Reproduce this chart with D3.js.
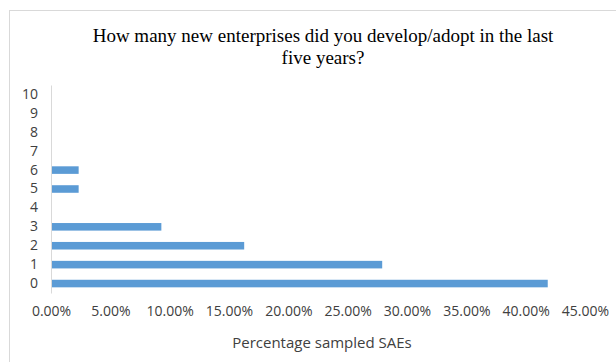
<!DOCTYPE html>
<meta charset="utf-8">
<style>
body { margin: 0; background: #fff; }
.tick text { font: 14px "Open Sans", sans-serif; fill: #404040; }
.title { font: 19px "Liberation Serif", serif; fill: #000; }
.xlabel { font: 15px "Open Sans", sans-serif; fill: #404040; }
</style>
<svg width="616" height="362"></svg>
<script src="https://d3js.org/d3.v7.min.js"></script>
<script>

// number of new enterprises developed/adopted
var categories = ["0", "1", "2", "3", "4", "5", "6", "7", "8", "9", "10"];
// percentage of sampled SAEs (out of 43)
var values = [41.86, 27.91, 16.28, 9.30, 0, 2.33, 2.33, 0, 0, 0, 0];
var xTicks = [0, 5, 10, 15, 20, 25, 30, 35, 40, 45];

var svg = d3.select("svg");

// chart border (runs off the right and bottom of the picture)
svg.append("rect")
    .attr("x", 9.5).attr("y", 10.5)
    .attr("width", 640).attr("height", 380)
    .attr("fill", "none")
    .attr("stroke", "#d9d9d9");

var margin = {left: 51, right: 31, top: 85, bottom: 69},
    width = 616 - margin.left - margin.right,
    height = 362 - margin.top - margin.bottom;

var g = svg.append("g").attr("transform", "translate(" + margin.left + "," + margin.top + ")");

var x = d3.scaleLinear().domain([0, 45]).range([0, width]);
var y = d3.scaleBand().domain(categories.slice().reverse()).range([0, height]).paddingInner(0.6).paddingOuter(0.3);

var data = categories.map(function(c, i) { return {cat: c, v: values[i]}; });

g.selectAll("rect.bar")
  .data(data.filter(function(d) { return d.v > 0; }))
  .enter().append("rect")
    .attr("class", "bar")
    .attr("x", 0)
    .attr("y", function(d) { return y(d.cat); })
    .attr("width", function(d) { return x(d.v); })
    .attr("height", y.bandwidth())
    .attr("fill", "#5b9bd5");

// y axis (line only, labels at the left)
var yAxis = g.append("g").call(d3.axisLeft(y).tickSize(0).tickPadding(13));
yAxis.select(".domain").attr("stroke", "#d9d9d9");

// x axis labels, no line
var xAxis = g.append("g")
    .attr("transform", "translate(0," + (height + 7) + ")")
    .call(d3.axisBottom(x).tickValues(xTicks).tickSize(0).tickPadding(6)
      .tickFormat(function(d) { return d.toFixed(2) + "%"; }));
xAxis.select(".domain").remove();

svg.append("text").attr("class", "xlabel")
    .attr("x", 322).attr("y", 348)
    .attr("text-anchor", "middle")
    .text("Percentage sampled SAEs");

var title = svg.append("text").attr("class", "title").attr("text-anchor", "middle");
title.append("tspan").attr("x", 323).attr("y", 42).text("How many new enterprises did you develop/adopt in the last");
title.append("tspan").attr("x", 323).attr("y", 64).text("five years?");

</script>
